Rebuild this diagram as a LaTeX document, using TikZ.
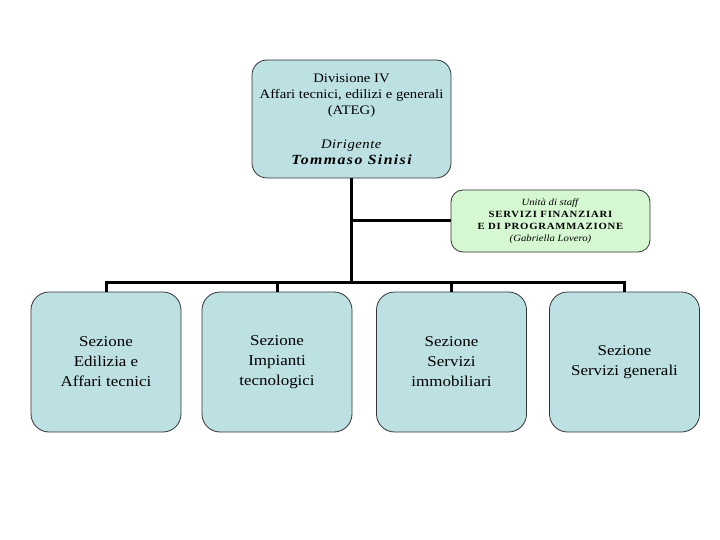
\documentclass[tikz,border=0pt]{standalone}
\usepackage{fontspec}
\setmainfont[FakeStretch=1.13]{Liberation Serif}
\definecolor{boxblue}{HTML}{BDE0E3}
\definecolor{boxgreen}{HTML}{D5F7D1}
\definecolor{edge}{HTML}{333333}
\begin{document}
\begin{tikzpicture}[x=1pt,y=-1pt,
  blubox/.style={draw=edge,line width=0.8pt,fill=boxblue,rounded corners=18pt,align=center,inner sep=0pt},
  staffbox/.style={draw=edge,line width=0.8pt,fill=boxgreen,rounded corners=12pt,align=center,inner sep=0pt,minimum width=199pt,minimum height=62pt},
  secbox/.style={blubox,minimum width=150pt,minimum height=140pt,font=\fontsize{15}{20}\selectfont},
  conn/.style={line width=3pt,black}]
\useasboundingbox (0,0) rectangle (720,540);
\fill[white] (0,0) rectangle (720,540);
\node[blubox,rounded corners=15pt,minimum width=199pt,minimum height=118pt,font=\fontsize{13}{16}\selectfont] (top) at (351.5,119)
  {Divisione IV\\Affari tecnici, edilizi e generali\\(ATEG)\\[1.35em]\textit{\addfontfeature{LetterSpace=4}Dirigente}\\{\fontsize{14}{16}\selectfont\bfseries\itshape\addfontfeature{LetterSpace=10}Tommaso Sinisi}};
\node[staffbox,font=\fontsize{9.5}{12.2}\selectfont] (staff) at (550.5,221)
  {\textit{Unità di staff}\\{\bfseries\addfontfeature{LetterSpace=8}SERVIZI FINANZIARI}\\{\bfseries\addfontfeature{LetterSpace=8}E DI PROGRAMMAZIONE}\\\textit{(Gabriella Lovero)}};
\node[secbox] (b1) at (106,362) {Sezione\\Edilizia e\\Affari tecnici};
\node[secbox] (b2) at (277,362) {Sezione\\Impianti\\tecnologici};
\node[secbox] (b3) at (451.5,362) {Sezione\\Servizi\\immobiliari};
\node[secbox] (b4) at (624.5,362) {Sezione\\Servizi generali};
\coordinate (bar) at (351.5,282);
\draw[conn] (top.south) -- (bar);
\draw[conn] (top.south |- staff.west) -- (staff.west);
\draw[conn,line cap=rect] (b1.north |- bar) -- (b4.north |- bar);
\draw[conn] (b1.north |- bar) -- (b1.north);
\draw[conn] (b2.north |- bar) -- (b2.north);
\draw[conn] (b3.north |- bar) -- (b3.north);
\draw[conn] (b4.north |- bar) -- (b4.north);
\end{tikzpicture}
\end{document}
